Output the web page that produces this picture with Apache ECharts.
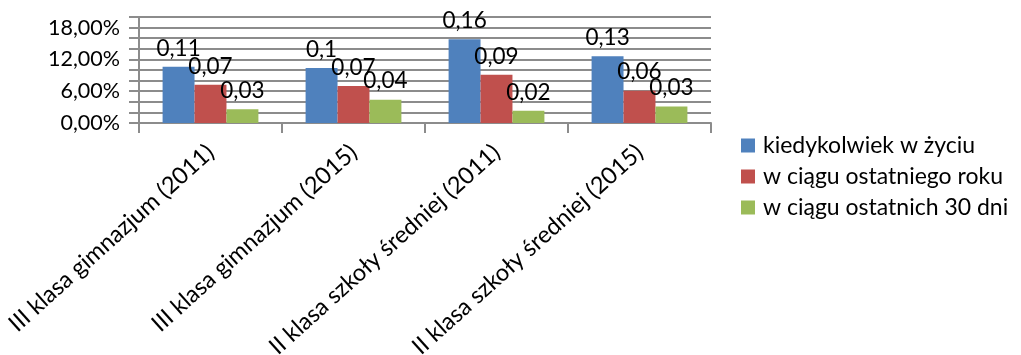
<!DOCTYPE html>
<html>
<head>
<meta charset="utf-8">
<script src="https://cdn.jsdelivr.net/npm/echarts@6/dist/echarts.min.js"></script>
<style>html,body{margin:0;padding:0;background:#fff}#c{width:1021px;height:355px}</style>
</head>
<body>
<div id="c"></div>
<script>
const categories = ['III klasa gimnazjum (2011)', 'III klasa gimnazjum (2015)', 'II klasa szkoły średniej (2011)', 'II klasa szkoły średniej (2015)'];
const seriesNames = ['kiedykolwiek w życiu', 'w ciągu ostatniego roku', 'w ciągu ostatnich 30 dni'];
const everValues = [0.106, 0.104, 0.158, 0.126];
const yearValues = [0.072, 0.070, 0.091, 0.061];
const monthValues = [0.026, 0.044, 0.023, 0.031];
const yTickLabels = [0, 0.06, 0.12, 0.18];
const colors = ['#4F81BD', '#C0504D', '#9BBB59'];

const FONT = 'Lato';
const fmtLabel = p => String(Math.round(p.value * 100) / 100).replace('.', ',');
const fmtAxis = v => {
  const hit = yTickLabels.some(t => Math.abs(t - v) < 1e-9);
  return hit ? (v * 100).toFixed(2).replace('.', ',') + '%' : '';
};

const mk = (name, data, color) => ({
  name, type: 'bar', data,
  barGap: '0%', barCategoryGap: '33%',
  itemStyle: { color },
  label: { show: true, position: 'top', distance: 7, formatter: fmtLabel,
           fontFamily: FONT, fontSize: 22.5, color: '#000' }
});

const chart = echarts.init(document.getElementById('c'), null, { renderer: 'canvas' });
chart.setOption({
  animation: false,
  textStyle: { fontFamily: FONT },
  grid: { left: 139, right: 310, top: 17, bottom: 232, containLabel: false, outerBoundsMode: 'none' },
  legend: {
    orient: 'vertical', left: 741, top: 134, padding: 0,
    itemWidth: 14, itemHeight: 14, itemGap: 8,
    icon: 'rect',
    textStyle: { fontFamily: FONT, fontSize: 23, color: '#000', padding: [0, 0, 0, 3] },
    data: seriesNames
  },
  xAxis: {
    type: 'category', data: categories,
    axisLine: { lineStyle: { color: '#8c8c8c', width: 2 } },
    axisTick: { show: true, length: 10, lineStyle: { color: '#8c8c8c', width: 2 } },
    axisLabel: { rotate: 42, margin: 26, interval: 0,
                 fontFamily: FONT, fontSize: 23.5, color: '#000' }
  },
  yAxis: {
    type: 'value', min: 0, max: 0.2, interval: 0.02,
    axisLine: { show: true, lineStyle: { color: '#8c8c8c', width: 2 } },
    axisTick: { show: true, length: 10, lineStyle: { color: '#8c8c8c', width: 2 } },
    splitLine: { show: true, lineStyle: { color: '#8c8c8c', width: 2 } },
    axisLabel: { formatter: fmtAxis, margin: 19, fontFamily: FONT, fontSize: 21.5, color: '#000', showMaxLabel: true }
  },
  series: [
    mk(seriesNames[0], everValues, colors[0]),
    mk(seriesNames[1], yearValues, colors[1]),
    mk(seriesNames[2], monthValues, colors[2])
  ]
});
</script>
</body>
</html>
